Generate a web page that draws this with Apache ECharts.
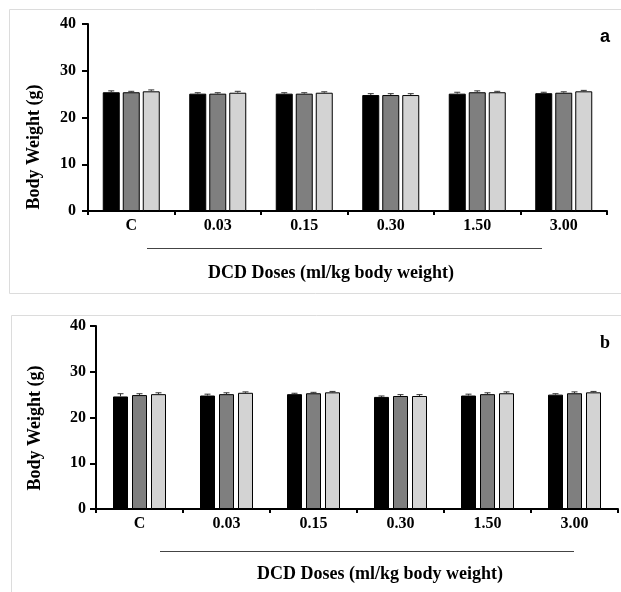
<!DOCTYPE html>
<html>
<head>
<meta charset="utf-8">
<script src="https://cdn.jsdelivr.net/npm/echarts@6/dist/echarts.min.js"></script>
<style>
html,body{margin:0;padding:0;background:#fff;}
#c{width:621px;height:592px;}
</style>
</head>
<body>
<div id="c"></div>
<script>
const categories = ['C', '0.03', '0.15', '0.30', '1.50', '3.00'];
const yTicks = [0, 10, 20, 30, 40];
// Panel a
const aSeries1 = [25.4, 25.1, 25.1, 24.8, 25.1, 25.2];
const aSeries2 = [25.4, 25.1, 25.1, 24.8, 25.4, 25.3];
const aSeries3 = [25.6, 25.3, 25.3, 24.8, 25.4, 25.6];
const aErr1 = [0.3, 0.2, 0.2, 0.3, 0.3, 0.2];
const aErr2 = [0.2, 0.2, 0.2, 0.3, 0.3, 0.2];
const aErr3 = [0.3, 0.3, 0.2, 0.3, 0.2, 0.2];
// Panel b
const bSeries1 = [24.6, 24.8, 25.1, 24.5, 24.8, 25.0];
const bSeries2 = [24.9, 25.1, 25.3, 24.7, 25.1, 25.3];
const bSeries3 = [25.1, 25.4, 25.5, 24.7, 25.3, 25.5];
const bErr1 = [0.6, 0.3, 0.2, 0.2, 0.3, 0.2];
const bErr2 = [0.3, 0.3, 0.2, 0.3, 0.3, 0.3];
const bErr3 = [0.3, 0.2, 0.2, 0.3, 0.3, 0.2];
const panelLabels = ['a', 'b'];
const xAxisTitle = 'DCD Doses (ml/kg body weight)';
const yAxisTitle = 'Body Weight (g)';
const barColors = ['#000000', '#7f7f7f', '#d3d3d3'];

const FONT = '"Liberation Serif", "Times New Roman", serif';
const SANS = '"Liberation Sans", Arial, sans-serif';
const chart = echarts.init(document.getElementById('c'));

const panels = [
  {grid: {left: 88, top: 24, width: 519, height: 187}, data: [aSeries1, aSeries2, aSeries3], err: [aErr1, aErr2, aErr3], barW: 17, gap: 3, ylm: 12},
  {grid: {left: 96, top: 326, width: 522, height: 183}, data: [bSeries1, bSeries2, bSeries3], err: [bErr1, bErr2, bErr3], barW: 15, gap: 4, ylm: 10}
];

const grids = [], xAxes = [], yAxes = [], series = [];
panels.forEach((p, pi) => {
  grids.push(p.grid);
  xAxes.push({
    type: 'category', gridIndex: pi, data: categories,
    axisLine: {lineStyle: {color: '#000', width: 2}},
    axisTick: {show: true, inside: false, length: 4, lineStyle: {color: '#000', width: 2}},
    axisLabel: {color: '#000', fontFamily: FONT, fontWeight: 'bold', fontSize: 16, margin: 7}
  });
  yAxes.push({
    type: 'value', gridIndex: pi, min: yTicks[0], max: yTicks[yTicks.length - 1], interval: 10,
    axisLine: {show: true, lineStyle: {color: '#000', width: 2}},
    axisTick: {show: true, inside: false, length: 6, lineStyle: {color: '#000', width: 2}},
    splitLine: {show: false},
    axisLabel: {color: '#000', fontFamily: FONT, fontWeight: 'bold', fontSize: 16, margin: p.ylm}
  });
  p.data.forEach((d, si) => {
    series.push({
      type: 'bar', xAxisIndex: pi, yAxisIndex: pi, data: d,
      barWidth: p.barW, barGap: (p.gap / p.barW * 100) + '%',
      itemStyle: {color: barColors[si], borderColor: '#000', borderWidth: 1},
      z: 2
    });
  });
  p.data.forEach((d, si) => {
    const off = (si - 1) * (p.barW + p.gap);
    series.push({
      type: 'custom', xAxisIndex: pi, yAxisIndex: pi,
      data: d.map((v, i) => [i, v, p.err[si][i]]),
      z: 3,
      renderItem: function (params, api) {
        const x = api.coord([api.value(0), 0])[0] + off;
        const top = api.coord([api.value(0), api.value(1) + api.value(2)])[1];
        const bot = api.coord([api.value(0), api.value(1)])[1];
        const hw = 3;
        const col = '#333';
        return {
          type: 'group',
          children: [
            {type: 'line', shape: {x1: x, y1: bot, x2: x, y2: top}, style: {stroke: col, lineWidth: 1}},
            {type: 'line', shape: {x1: x - hw, y1: top, x2: x + hw, y2: top}, style: {stroke: col, lineWidth: 1}}
          ]
        };
      }
    });
  });
});

const graphic = [
  // panel borders
  {type: 'rect', shape: {x: 9.5, y: 9.5, width: 630, height: 284}, style: {fill: 'none', stroke: '#dcdcdc', lineWidth: 1}, z: 0},
  {type: 'rect', shape: {x: 11.5, y: 315.5, width: 630, height: 300}, style: {fill: 'none', stroke: '#dcdcdc', lineWidth: 1}, z: 0},
  // underline lines
  {type: 'line', shape: {x1: 147, y1: 248.5, x2: 542, y2: 248.5}, style: {stroke: '#444', lineWidth: 1}},
  {type: 'line', shape: {x1: 160, y1: 551.5, x2: 574, y2: 551.5}, style: {stroke: '#444', lineWidth: 1}},
  // y titles
  {type: 'text', x: 34, y: 147, rotation: Math.PI / 2, style: {text: yAxisTitle, font: 'bold 18px ' + FONT, fill: '#000', textAlign: 'center', textVerticalAlign: 'middle'}},
  {type: 'text', x: 35, y: 428, rotation: Math.PI / 2, style: {text: yAxisTitle, font: 'bold 18px ' + FONT, fill: '#000', textAlign: 'center', textVerticalAlign: 'middle'}},
  // x titles
  {type: 'text', x: 331, y: 273, style: {text: xAxisTitle, font: 'bold 18px ' + FONT, fill: '#000', textAlign: 'center', textVerticalAlign: 'middle'}},
  {type: 'text', x: 380, y: 574, style: {text: xAxisTitle, font: 'bold 18px ' + FONT, fill: '#000', textAlign: 'center', textVerticalAlign: 'middle'}},
  // panel letters
  {type: 'text', x: 605, y: 37, style: {text: panelLabels[0], font: 'bold 18px ' + SANS, fill: '#000', textAlign: 'center', textVerticalAlign: 'middle'}},
  {type: 'text', x: 605, y: 343, style: {text: panelLabels[1], font: 'bold 18px ' + FONT, fill: '#000', textAlign: 'center', textVerticalAlign: 'middle'}}
];

chart.setOption({
  animation: false,
  backgroundColor: '#fff',
  grid: grids,
  xAxis: xAxes,
  yAxis: yAxes,
  series: series,
  graphic: graphic
});
</script>
</body>
</html>
